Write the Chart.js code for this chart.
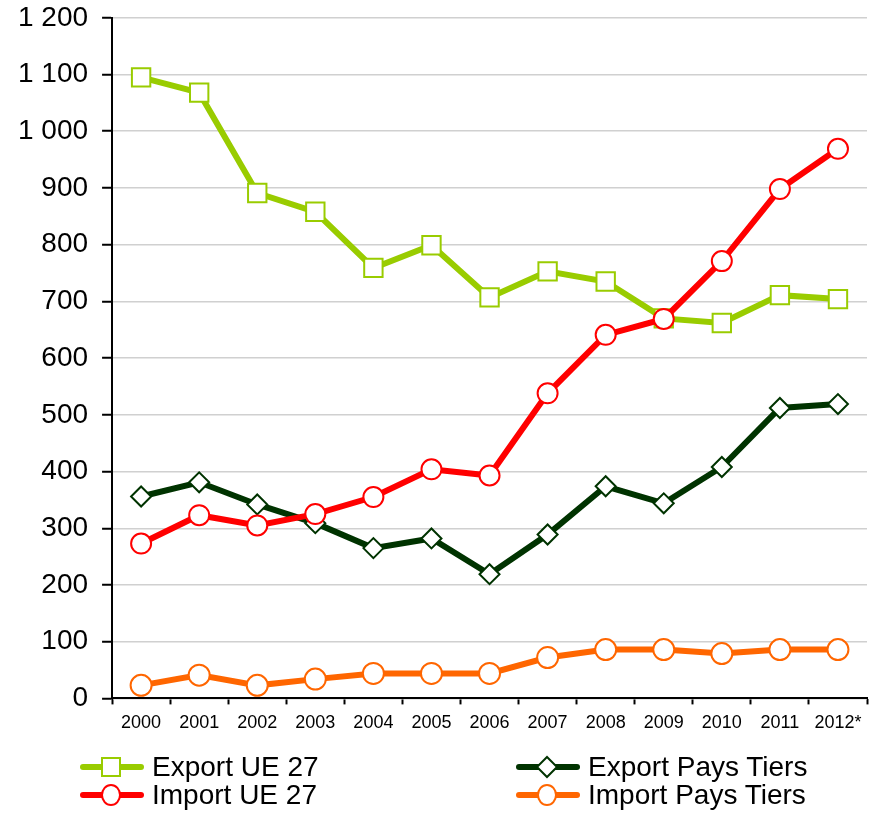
<!DOCTYPE html>
<html>
<head>
<meta charset="utf-8">
<script src="https://cdn.jsdelivr.net/npm/chart.js@4"></script>
<style>
    body { margin: 0; background: #fff; overflow: hidden; }
    #wrap { position: relative; width: 872px; height: 815px; overflow: hidden; }
    #chart { position: absolute; left: 0; top: -13px; }
    #legend { position: absolute; left: 0; top: 0; width: 872px; height: 815px; pointer-events: none;
        font-family: "Liberation Sans", Arial, sans-serif; font-size: 28px; color: #000; }
    .item { position: absolute; display: flex; align-items: center; height: 28px; white-space: nowrap; }
    .item svg { margin-right: 8px; }
</style>
</head>
<body>
<div id="wrap">
    <canvas id="chart" width="882" height="828"></canvas>
    <div id="legend"></div>
</div>
<script>
const years = ["2000", "2001", "2002", "2003", "2004", "2005", "2006", "2007", "2008", "2009", "2010", "2011", "2012*"];
const exportUE = [1095, 1068, 891, 858, 759, 799, 707, 753, 735, 670, 662, 711, 704];
const importUE = [273, 323, 305, 325, 355, 404, 393, 538, 641, 669, 771, 898, 969];
const exportTiers = [356, 381, 342, 309, 265, 282, 219, 289, 374, 344, 408, 512, 519];
const importTiers = [23, 41, 23, 34, 44, 44, 44, 72, 86, 86, 79, 86, 86];

const series = [
    { label: "Export UE 27", data: exportUE, color: "#99CC00", point: "rect", radius: 13, order: 1 },
    { label: "Import UE 27", data: importUE, color: "#FF0000", point: "circle", radius: 10, order: 0 },
    { label: "Export Pays Tiers", data: exportTiers, color: "#003300", point: "rectRot", radius: 10, order: 2 },
    { label: "Import Pays Tiers", data: importTiers, color: "#FF6600", point: "circle", radius: 10.5, order: 3 },
];

const fmt = (v) => String(v).replace(/\B(?=(\d{3})+(?!\d))/g, " ");

const ctx = document.getElementById("chart").getContext("2d");
const chart = new Chart(ctx, {
    type: "line",
    data: {
        labels: years,
        datasets: series.map((s) => ({
            label: s.label,
            data: s.data,
            order: s.order,
            borderColor: s.color,
            borderWidth: 6,
            tension: 0,
            pointStyle: s.point,
            pointRadius: s.radius,
            pointBackgroundColor: "#fff",
            pointBorderColor: s.color,
            pointBorderWidth: 2,
        })),
    },
    options: {
        responsive: false,
        animation: false,
        layout: { padding: { left: 4, right: 0, top: 0, bottom: 73 } },
        plugins: { legend: { display: false }, tooltip: { enabled: false } },
        scales: {
            x: {
                offset: true,
                grid: { offset: true, drawOnChartArea: false, tickLength: 6, tickColor: "#000", tickWidth: 2 },
                border: { color: "#000", width: 2 },
                ticks: { color: "#000", padding: 8, maxRotation: 0, autoSkip: false,
                    font: { family: "Liberation Sans, Arial", size: 18 } },
            },
            y: {
                min: 0,
                max: 1200,
                grid: { color: "#d0d0d0", lineWidth: 1.5, tickLength: 10, tickColor: "#000", tickWidth: 2 },
                border: { color: "#000", width: 2 },
                ticks: { stepSize: 100, color: "#000", padding: 14, callback: (v) => fmt(v),
                    font: { family: "Liberation Sans, Arial", size: 28 } },
            },
        },
    },
});

// legend: two columns, line + marker icon
const legendPos = [
    { i: 0, left: 80, top: 753 },
    { i: 1, left: 80, top: 781 },
    { i: 2, left: 516, top: 753 },
    { i: 3, left: 516, top: 781 },
];
const icon = (s) => {
    let m;
    if (s.point === "rect") m = `<rect x="22" y="5" width="18" height="18" fill="#fff" stroke="${s.color}" stroke-width="2"/>`;
    else if (s.point === "rectRot") m = `<polygon points="21,14 31,4 41,14 31,24" fill="#fff" stroke="${s.color}" stroke-width="2"/>`;
    else m = `<ellipse cx="31" cy="14" rx="9" ry="10" fill="#fff" stroke="${s.color}" stroke-width="2"/>`;
    return `<svg width="64" height="28"><line x1="3" y1="14" x2="61" y2="14" stroke="${s.color}" stroke-width="6" stroke-linecap="round"/>${m}</svg>`;
};
const legend = document.getElementById("legend");
for (const p of legendPos) {
    const s = series[p.i];
    const div = document.createElement("div");
    div.className = "item";
    div.style.left = p.left + "px";
    div.style.top = p.top + "px";
    div.innerHTML = icon(s) + `<span>${s.label}</span>`;
    legend.appendChild(div);
}
</script>
</body>
</html>
